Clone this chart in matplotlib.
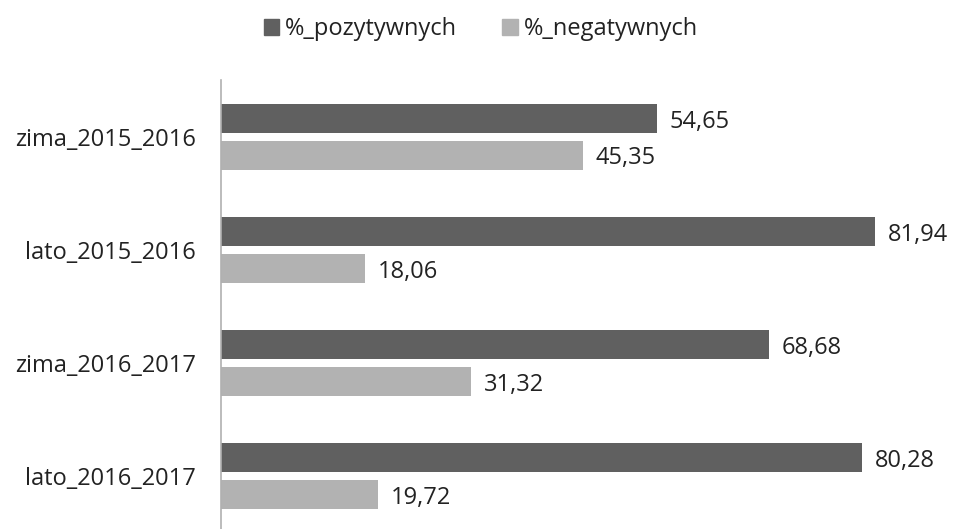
import matplotlib.pyplot as plt
from matplotlib.patches import Patch

# data
categories = ["zima_2015_2016", "lato_2015_2016", "zima_2016_2017", "lato_2016_2017"]
pozytywnych = [54.65, 81.94, 68.68, 80.28]
negatywnych = [45.35, 18.06, 31.32, 19.72]
labels_poz = ["54,65", "81,94", "68,68", "80,28"]
labels_neg = ["45,35", "18,06", "31,32", "19,72"]

dark = "#606060"
light = "#b2b2b2"

plt.rcParams["font.family"] = ["Open Sans", "DejaVu Sans"]

fig = plt.figure(figsize=(9.54, 5.29), dpi=100)
ax = fig.add_axes([221 / 954, 0, 1 - 221 / 954, (529 - 80) / 529])

pos = list(range(len(categories)))
h = 0.256
off = 0.163
ax.barh([p - off for p in pos], pozytywnych, height=h, color=dark)
ax.barh([p + off for p in pos], negatywnych, height=h, color=light)

for p, v, t in zip(pos, pozytywnych, labels_poz):
    ax.text(v + 1.6, p - off + 0.03, t, va="center", ha="left", fontsize=17, color="#222222")
for p, v, t in zip(pos, negatywnych, labels_neg):
    ax.text(v + 1.6, p + off + 0.03, t, va="center", ha="left", fontsize=17, color="#222222")

ax.set_xlim(0, (954 - 221) / 7.98)
ax.set_ylim(3 + 53 / 113.3, -0.5)
ax.set_yticks(pos)
ax.set_yticklabels(categories, fontsize=17, color="#222222")
ax.tick_params(axis="y", length=0, pad=18)
ax.set_xticks([])
for s in ["top", "right", "bottom"]:
    ax.spines[s].set_visible(False)
ax.spines["left"].set_color("#b0b0b0")
ax.spines["left"].set_linewidth(1.2)

handles = [Patch(color=dark, label="%_pozytywnych"), Patch(color=light, label="%_negatywnych")]
fig.legend(handles=handles, loc="center", bbox_to_anchor=(0.504, 1 - 29 / 529), ncol=2,
           frameon=False, fontsize=17, handlelength=0.65, handleheight=0.65,
           handletextpad=0.25, columnspacing=1.9, labelcolor="#222222")

fig.savefig("out.png", dpi=100)
